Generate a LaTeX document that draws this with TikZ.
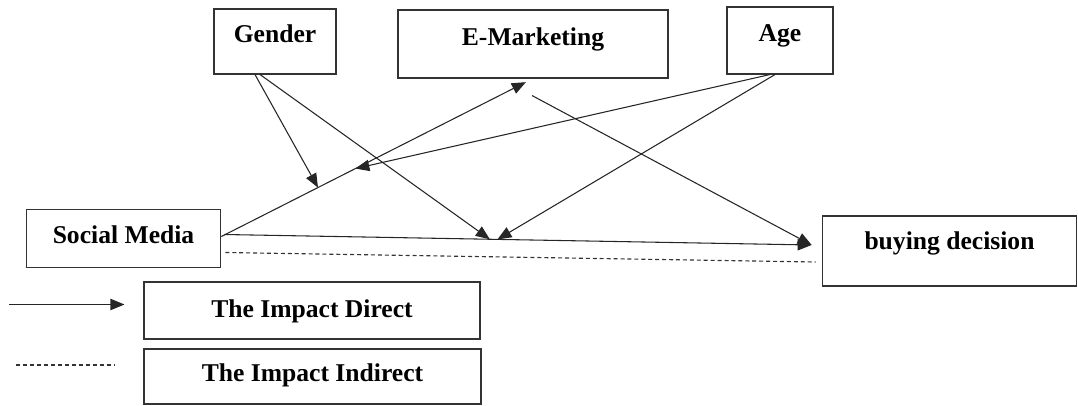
\documentclass[tikz,border=0pt]{standalone}
\usepackage{fontspec}
\setmainfont{Liberation Serif}
\usetikzlibrary{arrows.meta,calc}

\tikzset{
  box/.style={draw=black!80, line width=0.8pt, inner sep=0pt, text height=#1, text depth=0pt,
    font=\fontsize{19.2}{21}\selectfont\bfseries},
  box/.default=1.5pt,
  link/.style={->, draw=black!85, line width=0.8pt},
  dashlink/.style={draw=black!80, line width=0.85pt, dash pattern=on 3pt off 2.2pt}
}

\begin{document}
\begin{tikzpicture}[x=0.75pt, y=-0.75pt, >={Triangle[length=10.5pt,width=8.5pt]}]

				\useasboundingbox (0,0) rectangle (1078,405);

					% top boxes
					\foreach \n/\l/\x/\y/\w/\h in {gender/Gender/275/41.5/122/65, emark/E-Marketing/533/44/270/68, age/Age/780/40.5/106/67}
					\node [box, minimum width=\w*0.75pt, minimum height=\h*0.75pt] (\n) at (\x,\y) {\l};

					% independent and dependent
					\node [box=6.75pt, minimum width=146pt, minimum height=44pt] (social) at (123.5,238.5) {Social Media};
					\node [box, text height=0pt, text depth=3pt, minimum width=191pt, minimum height=52.5pt] (buying) at (949.5,251) {buying decision};

					% legend boxes
					\node [box=9.75pt, minimum width=252pt, minimum height=42.75pt] (direct) at (312,310.5) {The Impact Direct};
					\node [box=7.5pt, minimum width=252.75pt, minimum height=41.25pt] (indirect) at (312.5,376.5) {The Impact Indirect};

				% social media to e-marketing
				\draw [link, shorten >=6pt] ($(social.east)+(0,-2)$) -- (emark.south)
					coordinate [pos=0.31] (mod-1)
					coordinate [pos=0.43] (mod-2);

				% social media to buying decision
				\draw [link] ($(social.east)+(3,-4)$) -- ($(buying.west)+(-10,-6)$)
					coordinate [pos=0.452] (mod-3)
					coordinate [pos=0.465] (mod-4);

				% e-marketing to buying decision
				\draw [link] ($(emark.south)+(-1,17)$) -- ($(buying.west)+(-10,-6)$);

				% indirect path
				\draw [dashlink] ($(social.east)+(4,14)$) -- ($(buying.west)+(-6,11)$);

				% moderators
				\foreach \m/\dx/\t in {gender/-20/mod-1, gender/-15/mod-3, age/-10/mod-2, age/-5/mod-4}
					\draw [link] ($(\m.south)+(\dx,0)$) -- (\t);

				% legend
				\draw [link] ($(direct.west)+(-134,-6)$) -- ($(direct.west)+(-19,-6)$);
				\draw [dashlink] ($(indirect.west)+(-127,-11.5)$) -- ($(indirect.west)+(-29,-11.5)$);

\end{tikzpicture}
\end{document}
